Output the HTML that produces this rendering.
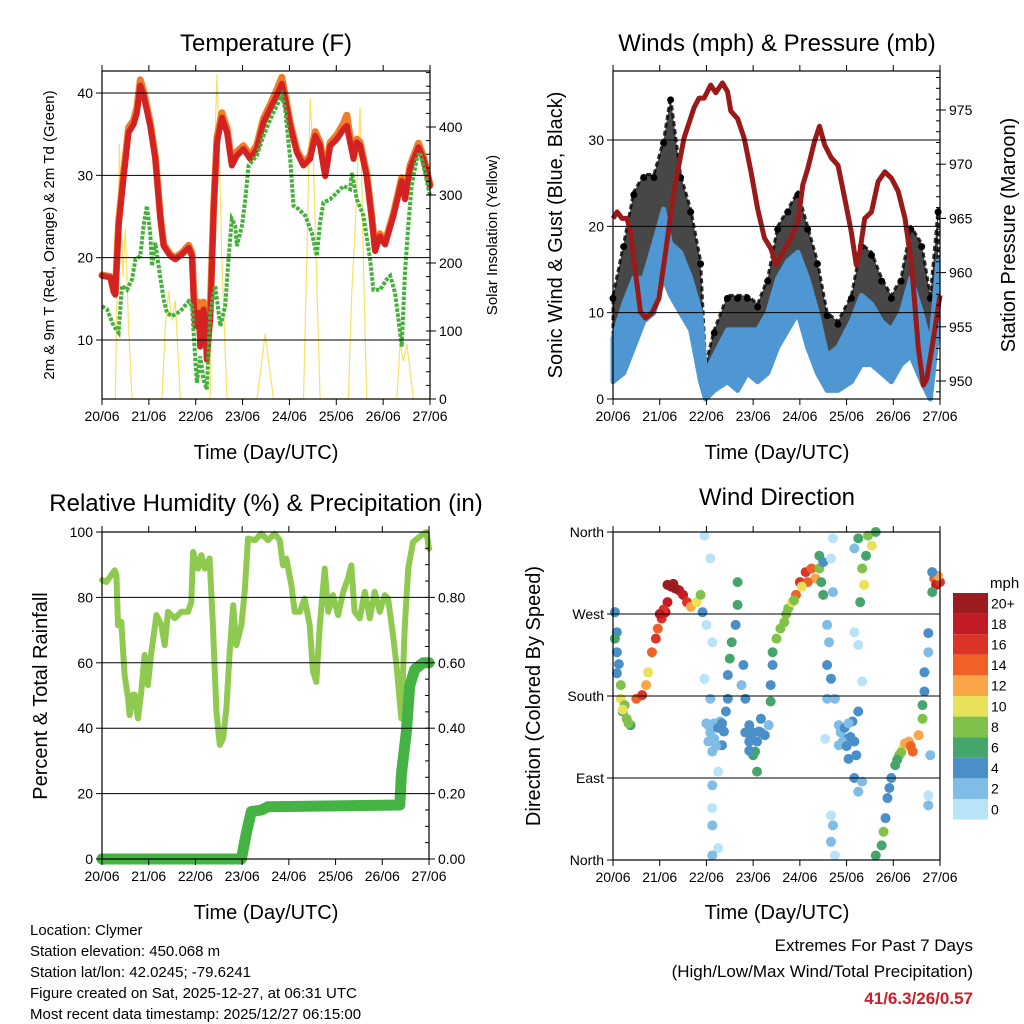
<!DOCTYPE html>
<html><head><meta charset="utf-8"><style>
html,body{margin:0;padding:0;background:#fff;}
svg{display:block;font-family:"Liberation Sans",sans-serif;}
</style></head><body>
<svg id="chart" width="1024" height="1024" viewBox="0 0 1024 1024" xmlns="http://www.w3.org/2000/svg">
<text x="266" y="51" font-size="24" text-anchor="middle">Temperature (F)</text>
<text x="777" y="51" font-size="24" text-anchor="middle">Winds (mph) &amp; Pressure (mb)</text>
<text x="266" y="511" font-size="24" text-anchor="middle">Relative Humidity (%) &amp; Precipitation (in)</text>
<text x="777" y="505" font-size="24" text-anchor="middle">Wind Direction</text>
<text x="266" y="459" font-size="20" text-anchor="middle">Time (Day/UTC)</text>
<text x="777" y="459" font-size="20" text-anchor="middle">Time (Day/UTC)</text>
<text x="266" y="919" font-size="20" text-anchor="middle">Time (Day/UTC)</text>
<text x="777" y="919" font-size="20" text-anchor="middle">Time (Day/UTC)</text>
<text transform="translate(54,235) rotate(-90)" font-size="15" text-anchor="middle">2m &amp; 9m T (Red, Orange) &amp; 2m Td (Green)</text>
<text transform="translate(497,235) rotate(-90)" font-size="15" text-anchor="middle">Solar Insolation (Yellow)</text>
<text transform="translate(562,235) rotate(-90)" font-size="20" text-anchor="middle">Sonic Wind &amp; Gust (Blue, Black)</text>
<text transform="translate(1015,235) rotate(-90)" font-size="20" text-anchor="middle">Station Pressure (Maroon)</text>
<text transform="translate(47,696) rotate(-90)" font-size="20" text-anchor="middle">Percent &amp; Total Rainfall</text>
<text transform="translate(540,696) rotate(-90)" font-size="20" text-anchor="middle">Direction (Colored By Speed)</text>
<g font-size="15">
<text x="30" y="935">Location: Clymer</text>
<text x="30" y="956">Station elevation: 450.068 m</text>
<text x="30" y="977">Station lat/lon: 42.0245; -79.6241</text>
<text x="30" y="998">Figure created on Sat, 2025-12-27, at 06:31 UTC</text>
<text x="30" y="1019">Most recent data timestamp: 2025/12/27 06:15:00</text>
</g>
<g text-anchor="end">
<text x="973" y="951" font-size="17">Extremes For Past 7 Days</text>
<text x="973" y="977" font-size="17">(High/Low/Max Wind/Total Precipitation)</text>
<text x="973" y="1004" font-size="17" font-weight="bold" fill="#c8202a">41/6.3/26/0.57</text>
</g>
</svg>
<script>
const dayLabels=["20/06","21/06","22/06","23/06","24/06","25/06","26/06","27/06"];
const tempRed=[[0,17.8],[4.3,17.6],[6,15.8],[6.8,15.5],[8.5,23.9],[11.1,29.9],[13.6,35.2],[16.2,36.2],[17.9,37.6],[19.6,40.9],[21.3,39.7],[24.7,36],[27.3,32],[29.9,24.7],[31.6,21.4],[35,20.2],[37.5,19.8],[40.9,20.4],[44.4,21.2],[46.1,20.2],[46.9,14.9],[47.8,11.7],[49.5,13.3],[50.3,9.2],[52,13.7],[52.9,11.7],[53.7,7.6],[55.4,12.5],[57.2,25.9],[58.9,34],[61.4,37],[64,35.2],[66.5,31.2],[69.1,32.4],[72.5,33.2],[75.9,32],[79.3,33.2],[82.7,36.4],[86.2,38.1],[89.6,39.7],[92.1,41.1],[93.8,39.3],[96.4,36],[99.8,32.8],[103.2,31.2],[106.6,32],[109.2,34.8],[111.7,33.6],[114.3,29.9],[116.9,33.6],[120.3,34.4],[123.7,35.6],[125.4,36],[127.1,34],[128.8,32],[130.5,34],[132.2,33.6],[135.6,29.9],[138.2,24.7],[139.9,20.8],[142.4,22.6],[145,21.6],[149.3,25.1],[153.5,29.3],[155.2,27.1],[157.8,30.8],[162.1,33.4],[164.6,32],[168,28.7]];
const tempOrange=[[0,17.9],[4.3,17.7],[6,16],[6.8,15.7],[8.5,24.3],[11.1,30.4],[13.6,35.8],[16.2,36.7],[17.9,38.2],[19.6,41.6],[21.3,40.2],[24.7,36.4],[27.3,32.3],[29.9,25],[31.6,21.6],[35,20.4],[37.5,20],[40.9,20.6],[44.4,21.5],[46.1,20.5],[46.9,16.2],[47.8,13.8],[49.5,14.6],[50.3,11],[52,14.6],[52.9,13.2],[53.7,9],[55.4,13.6],[57.2,26.3],[58.9,34.6],[61.4,37.6],[64,35.7],[66.5,31.6],[69.1,32.9],[72.5,33.6],[75.9,32.4],[79.3,33.7],[82.7,36.9],[86.2,38.6],[89.6,40.4],[92.1,41.9],[93.8,39.8],[96.4,36.4],[99.8,33.1],[103.2,31.5],[106.6,32.4],[109.2,35.3],[111.7,34],[114.3,30.2],[116.9,34],[120.3,34.9],[123.7,36.3],[125.4,37.3],[127.1,34.6],[128.8,32.4],[130.5,34.4],[132.2,34],[135.6,30.2],[138.2,25],[139.9,21.1],[142.4,22.9],[145,21.9],[149.3,25.4],[153.5,29.7],[155.2,27.4],[157.8,31.2],[162.1,33.9],[164.6,32.3],[168,28.9]];
const dewPoint=[[0,14.1],[2.6,13.7],[6,11.7],[8.5,10.9],[10.2,16.6],[12.8,16.1],[15.4,17.4],[17.1,19.8],[19.6,20.2],[21.3,23.9],[23,26.3],[24.7,23],[25.6,19],[27.3,21.8],[29,19],[31.6,14.9],[33.3,13.3],[35.8,12.9],[40.1,13.5],[44.4,14.7],[46.1,14.1],[47.8,7.6],[48.6,4.8],[50.3,8],[52,5.2],[53.7,4],[55.4,13.3],[58,16.6],[60.6,11.7],[63.1,14.1],[64.8,19.8],[66.5,24.7],[68.2,23.9],[69.1,21.4],[71.7,23.9],[73.4,27.1],[75.1,31.2],[79.3,32.4],[82.7,34.8],[86.2,36.8],[89.6,38.5],[92.1,39.7],[93.8,38.1],[96.4,32],[98.1,26.3],[100.7,25.9],[104.1,25.1],[107.5,23],[110,20.2],[111.7,24.3],[113.4,26.7],[116.9,27.1],[120.3,27.9],[123.7,28.7],[127.1,28.3],[128,30.3],[130.5,27.1],[133.9,25.1],[137.3,19.8],[139,16.1],[142.4,16.1],[145.9,17.4],[147.6,17.8],[150.1,15.7],[152.7,10.9],[153.5,9.2],[155.2,18.2],[156.9,23.9],[158.6,28.7],[161.2,32],[162.9,32.8],[165.5,30.3],[168,27.5]];
const solar=[[0,0],[6.8,0],[8,203],[8.9,375],[9.7,277],[10.7,179],[11.9,252],[13.6,105],[15.4,0],[30.7,0],[32.4,105],[34.1,159],[35.8,115],[37.5,145],[40.1,0],[55.4,0],[57.2,326],[58.9,478],[60.2,350],[61.4,203],[64,0],[79.3,0],[81.9,56],[83.6,96],[85.3,56],[87.9,0],[103.2,0],[104.9,203],[106.6,443],[108.3,350],[109.7,203],[111.7,0],[126.2,0],[127.9,154],[129.7,252],[132.2,429],[133.9,203],[135.6,0],[151,0],[152.7,81],[154.4,56],[156.1,81],[159.5,0],[168,0]];
const windHours=[0,5.5,10.7,15.8,21,26,29.6,34.7,39.9,45,47.6,52,58.8,64,69,74.3,79.5,84.6,89.8,95,100,105,110,115.6,122.5,127.6,132.8,138,143,148,153,158.6,163,167];
const windLo=[2,3,6,9,10,14,12,10,8,2,0,1,2,1,3,2,3,6,8,10,6,3,1,1,2,4,4,3,2,4,5,2,0,8];
const windHi=[7,11,14,14,18,22,18,17,14,10,3,5,8,8,8,8,10,14,16,17,14,10,5,6,9,12,11,9,8,10,14,10,6,16];
const gustHi=[12,18,24,26,26,30,35,26,22,16,4,8,12,12,12,11,14,20,22,24,20,16,10,9,12,18,17,14,12,14,20,18,12,22];
const pressure=[[0,965],[2.1,965.6],[4.6,965],[7.2,965],[8.9,963.8],[11.5,960.1],[14.1,956.4],[16.7,955.8],[20.1,956.3],[23.6,957.6],[27,961.9],[31.3,967.5],[36.5,972.4],[41.6,975.2],[44.2,976.1],[46.8,976.1],[50.2,977.3],[52.8,976.6],[56.2,977.5],[58.8,976.7],[60.5,974.9],[64,974.2],[67.4,972.4],[70.9,969.3],[74.3,965.9],[77.8,963.2],[81.2,962.2],[83.8,960.7],[86.3,961.6],[91.5,963.2],[95,964.7],[97.5,968.1],[100.1,969.6],[103.5,972.1],[106.1,973.5],[108.7,971.8],[112.1,970.6],[115.6,969.9],[119,966.9],[122.4,963.8],[125,960.7],[126.8,961.9],[129.3,965],[132.8,965.6],[136.2,968.4],[139.7,969.3],[143.1,968.7],[146.5,967.5],[150,965],[153.4,960.7],[156.9,953],[159.4,949.6],[161.2,950.2],[164.6,953.9],[168,957.9]];
const humidity=[[0,85.3],[2.2,84.7],[4.8,86.8],[6.5,88.3],[7.4,86.8],[8.2,71.5],[9.9,72.5],[11.6,56.3],[13.4,49.1],[14.2,44],[15.9,50.2],[16.8,50.2],[18.5,43],[20.2,51.2],[21.9,62.4],[23.6,53.2],[25.4,63.4],[28,74.6],[30.5,71.5],[32.2,65.4],[33.9,75.6],[37.3,73.6],[40.8,75.6],[44.2,75.6],[45.9,78.6],[46.8,93.9],[49.3,88.8],[51,92.9],[52.8,88.8],[55.3,91.9],[57,71.5],[58.8,45.1],[60.5,34.9],[62.2,36.9],[63.9,46.1],[65.6,63.4],[67.4,77.6],[69,65.4],[71.6,71.5],[73.3,81.7],[75,98],[78.5,97.5],[81.9,99.5],[85.3,97.5],[88.7,99.5],[91.3,97.5],[93,89.8],[94.7,91.9],[97.3,83.7],[99,75.6],[101.6,75.6],[104.1,79.6],[106.7,71.5],[108.4,57.3],[110.1,54.2],[111.9,71.5],[114.4,88.8],[116.2,75.6],[118.7,80.7],[121.3,74.6],[123.9,81.7],[126.4,85.8],[128.1,89.8],[129.8,75.6],[132.4,73.6],[135,81.7],[137.6,73.6],[140.1,81.7],[142.7,75.6],[145.3,80.7],[147,79.6],[149.5,68.5],[151.3,59.3],[153,48.1],[153.8,43],[155.5,70.5],[157.3,88.8],[159.8,96.9],[164.1,99],[166.7,100],[168,94.9]];
const rainfall=[[0,0],[71.6,0],[74.2,0.08],[76.7,0.145],[81.9,0.15],[85.3,0.16],[153,0.165],[153.8,0.26],[156.4,0.39],[158.1,0.53],[160.7,0.58],[165,0.6],[168,0.6]];
const windDir=[[1,272,4],[2,250,4],[2,228,4],[1,243,6],[4,192,8],[4,177,10],[5,163,6],[7,155,8],[9,148,6],[6,170,8],[12,177,14],[15,181,16],[17,192,12],[18,206,10],[20,228,14],[22,243,16],[23,254,14],[25,265,16],[27,272,18],[28,283,18],[28,302,20],[31,303,20],[34,296,18],[36,291,18],[38,283,16],[40,278,12],[43,283,10],[45,291,8],[46,272,4],[47,356,0],[50,331,0],[48,258,0],[51,239,0],[47,199,0],[50,177,2],[49,148,2],[52,133,2],[51,119,2],[54,97,0],[51,82,2],[51,57,0],[51,38,2],[54,13,0],[51,5,2],[57,141,4],[56,126,4],[55,152,2],[64,305,6],[64,280,6],[63,258,4],[61,239,6],[60,221,6],[59,203,4],[59,177,4],[58,163,4],[67,214,4],[66,192,2],[68,177,4],[70,148,4],[71,133,4],[73,119,6],[74,97,6],[75,141,4],[76,155,4],[78,137,4],[80,148,2],[81,174,6],[81,192,4],[82,214,4],[82,228,6],[84,243,8],[86,254,8],[88,261,8],[90,276,8],[92,283,10],[94,291,14],[96,305,16],[99,316,16],[102,320,14],[104,309,12],[106,320,8],[107,305,6],[108,291,6],[106,334,6],[108,327,4],[113,353,0],[112,331,0],[113,294,2],[110,258,2],[111,239,2],[110,214,4],[112,199,4],[110,177,2],[109,133,0],[114,177,2],[116,148,2],[116,126,2],[119,133,4],[121,111,4],[123,152,4],[126,163,4],[124,130,4],[124,90,4],[126,75,2],[128,86,2],[112,49,0],[113,38,2],[112,20,2],[114,5,0],[124,250,0],[126,236,0],[128,196,0],[126,353,6],[131,356,8],[135,360,6],[133,345,10],[130,334,6],[128,320,8],[129,302,10],[127,283,6],[124,342,2],[135,5,6],[138,16,6],[139,31,8],[140,46,4],[141,68,4],[142,79,4],[143,90,4],[145,104,6],[147,115,8],[149,122,10],[152,130,12],[154,119,14],[157,137,12],[159,155,8],[159,170,6],[160,185,4],[160,206,4],[162,228,2],[162,249,4],[163,115,2],[162,71,0],[162,60,2],[165,309,14],[166,302,18],[168,305,16],[164,294,6],[167,312,12],[164,316,4],
[48,150,2],[50,140,2],[52,150,2],[54,145,4],[56,150,4],[49,130,2],[53,125,2],[68,140,4],[70,130,4],[72,140,4],[74,130,4],[76,140,4],[72,115,6],[70,120,4],[117,140,2],[118,130,2],[119,145,4],[120,125,4],[122,135,4],[121,150,2],[125,115,4],[30,300,20],[32,298,20],[26,275,16],[24,270,18],[150,128,12],[153,125,14],[148,118,8],[146,110,6],[3,215,4],[2,205,4],[5,165,10],[8,150,8],[100,305,14],[97,300,10],[93,285,8],[89,270,8]];
const speedColors=["#b9e4f8","#7fbde6","#4a8fc8","#46a56a","#7ec24b","#e7e25a","#f9a548","#f06127","#dc3327","#c11b25","#9b1b1f"];
const speedLabels=["0","2","4","6","8","10","12","14","16","18","20+"];

const NS="http://www.w3.org/2000/svg";
const svg=document.getElementById('chart');
function mk(tag,attrs,parent){const e=document.createElementNS(NS,tag);for(const k in attrs)e.setAttribute(k,attrs[k]);(parent||svg).appendChild(e);return e;}
function xs(x0,x1){return h=>x0+h/168*(x1-x0);}
function lin(v0,p0,v1,p1){return v=>p0+(v-v0)*(p1-p0)/(v1-v0);}
function pathOf(arr,fx,fy){return arr.map((p,i)=>(i?'L':'M')+fx(p[0]).toFixed(1)+','+fy(p[1]).toFixed(1)).join('');}
function frame(name,x0,x1,y0,y1){
  const g=mk('g',{});
  
  
  const X=xs(x0,x1);
  for(let d=0;d<=7;d++){
    const x=X(d*24);
    mk('line',{x1:x,y1:y1,x2:x,y2:y1+6,stroke:'#000','stroke-width':1},g);
    mk('line',{x1:x,y1:y0,x2:x,y2:y0-6,stroke:'#000','stroke-width':1},g);
    const t=mk('text',{x:x,y:y1+22,'font-size':14,'text-anchor':'middle'},g);
    
    
    t.textContent=dayLabels[d];
  }
  return g;
}
function grid(g,x0,x1,y){mk('line',{x1:x0,y1:y,x2:x1,y2:y,stroke:'#000','stroke-width':1},g);}
function border(g,x0,x1,y0,y1){mk('rect',{x:x0,y:y0,width:x1-x0,height:y1-y0,fill:'none',stroke:'#000','stroke-width':1.2},g);}
function leftTicks(g,x0,vals,fy,labels){vals.forEach((v,i)=>{const y=fy(v);mk('line',{x1:x0-6,y1:y,x2:x0,y2:y,stroke:'#000'},g);if(labels){const t=mk('text',{x:x0-9,y:y+5,'font-size':14,'text-anchor':'end'},g);t.textContent=labels[i];}});}
function rightTicks(g,x1,vals,fy,labels,minor){vals.forEach((v,i)=>{const y=fy(v);mk('line',{x1:x1,y1:y,x2:x1+6,y2:y,stroke:'#000'},g);const t=mk('text',{x:x1+9,y:y+5,'font-size':14},g);t.textContent=labels[i];});(minor||[]).forEach(v=>{const y=fy(v);mk('line',{x1:x1-4,y1:y,x2:x1,y2:y,stroke:'#000'},g);});}

// ---- Temperature panel ----
(function(){
  const x0=102,x1=430,y0=71,y1=399;const X=xs(x0,x1);
  const Y=lin(10,340,40,93), S=lin(0,399,400,127);
  const g=frame('temperature',x0,x1,y0,y1);
  [10,20,30,40].forEach(v=>grid(g,x0,x1,Y(v)));
  leftTicks(g,x0,[10,20,30,40],Y,["10","20","30","40"]);
  const mn=[];for(let v=0;v<=480;v+=20)mn.push(v);
  rightTicks(g,x1,[0,100,200,300,400],S,["0","100","200","300","400"],mn);
  const sp=mk('path',{d:pathOf(solar,X,S),fill:'none',stroke:'#f7dc4a','stroke-width':1.2,'stroke-opacity':0.85});
  
  const op=mk('path',{d:pathOf(tempOrange,X,Y),fill:'none',stroke:'#f07c2a','stroke-width':7,'stroke-linejoin':'round','stroke-linecap':'round'});
  
  const rp=mk('path',{d:pathOf(tempRed,X,Y),fill:'none',stroke:'#d42222','stroke-width':6,'stroke-linejoin':'round','stroke-linecap':'round'});
  
  const dp=mk('path',{d:pathOf(dewPoint,X,Y),fill:'none',stroke:'#46b03c','stroke-width':4,'stroke-dasharray':'3.5 1.5'});
  
  border(g,x0,x1,y0,y1);svg.appendChild(g);
})();

// ---- Winds panel ----
(function(){
  const x0=613,x1=940,y0=71,y1=399;const X=xs(x0,x1);
  const W=lin(0,399,30,140), P=lin(950,381,975,110);
  const g=frame('winds',x0,x1,y0,y1);
  [10,20,30].forEach(v=>grid(g,x0,x1,W(v)));
  leftTicks(g,x0,[0,10,20,30],W,["0","10","20","30"]);
  const mn=[];for(let v=949;v<=978;v++)mn.push(v);
  rightTicks(g,x1,[950,955,960,965,970,975],P,["950","955","960","965","970","975"],mn);
  const gu=windHours.map((h,i)=>[h,gustHi[i]]), lo=windHours.map((h,i)=>[h,windLo[i]]), hi=windHours.map((h,i)=>[h,windHi[i]]);
  const gb=mk('path',{d:pathOf(gu,X,W)+'L'+pathOf(lo.slice().reverse(),X,W).slice(1)+'Z',fill:'#000','fill-opacity':0.72,stroke:'#000','stroke-opacity':0.8,'stroke-width':3,'stroke-linejoin':'round','stroke-dasharray':'5 3'});
  
  windHours.forEach((h,i)=>{const c=mk('circle',{cx:X(h),cy:W(gustHi[i])+3,r:3.5,fill:'#000'});
    
    });
  const wb=mk('path',{d:pathOf(hi,X,W)+'L'+pathOf(lo.slice().reverse(),X,W).slice(1)+'Z',fill:'#4f97d2',stroke:'#4f97d2','stroke-width':5,'stroke-linejoin':'round'});
  
  const pp=mk('path',{d:pathOf(pressure,X,P),fill:'none',stroke:'#9a1a1a','stroke-width':5,'stroke-linejoin':'round'});
  
  border(g,x0,x1,y0,y1);svg.appendChild(g);
})();

// ---- RH panel ----
(function(){
  const x0=102,x1=429,y0=532,y1=859;const X=xs(x0,x1);
  const R=lin(0,859,100,532), Q=lin(0,859,1,532);
  const g=frame('humidity',x0,x1,y0,y1);
  [20,40,60,80].forEach(v=>grid(g,x0,x1,R(v)));
  leftTicks(g,x0,[0,20,40,60,80,100],R,["0","20","40","60","80","100"]);
  const mn=[];for(let v=0;v<=1.0001;v+=0.05)mn.push(v);
  rightTicks(g,x1,[0,0.2,0.4,0.6,0.8],Q,["0.00","0.20","0.40","0.60","0.80"],mn);
  const hp=mk('path',{d:pathOf(humidity,X,R),fill:'none',stroke:'#8fca50','stroke-width':6,'stroke-linejoin':'round','stroke-linecap':'round'});
  
  const rp=mk('path',{d:pathOf(rainfall,X,Q),fill:'none',stroke:'#45b244','stroke-width':11,'stroke-linejoin':'round','stroke-linecap':'round'});
  
  border(g,x0,x1,y0,y1);svg.appendChild(g);
})();

// ---- Wind direction panel ----
(function(){
  const x0=613,x1=940,y0=532,y1=860;const X=xs(x0,x1);
  const D=lin(0,860,360,532);
  const g=frame('wind-direction',x0,x1,y0,y1);
  [90,180,270].forEach(v=>grid(g,x0,x1,D(v)));
  leftTicks(g,x0,[0,90,180,270,360],D,["North","East","South","West","North"]);
  const pg=mk('g',{});
  
  
  windDir.forEach(p=>{const bin=Math.min(10,Math.floor(p[2]/2));
    const c=mk('circle',{cx:X(p[0]),cy:D(p[1]),r:5,fill:speedColors[bin]},pg);
    
    });
  border(g,x0,x1,y0,y1);svg.appendChild(g);
  const lg=mk('g',{});
  
  
  const t=mk('text',{x:990,y:588,'font-size':15},lg);t.textContent='mph';
  const top=593,bh=20.6;
  for(let i=0;i<11;i++){const k=10-i;
    const r=mk('rect',{x:953,y:top+i*bh,width:35,height:bh,fill:speedColors[k]},lg);
    
    
    const l=mk('text',{x:991,y:top+i*bh+bh/2+5,'font-size':14},lg);
    
    
    l.textContent=speedLabels[k];}
})();
</script>
</body></html>
